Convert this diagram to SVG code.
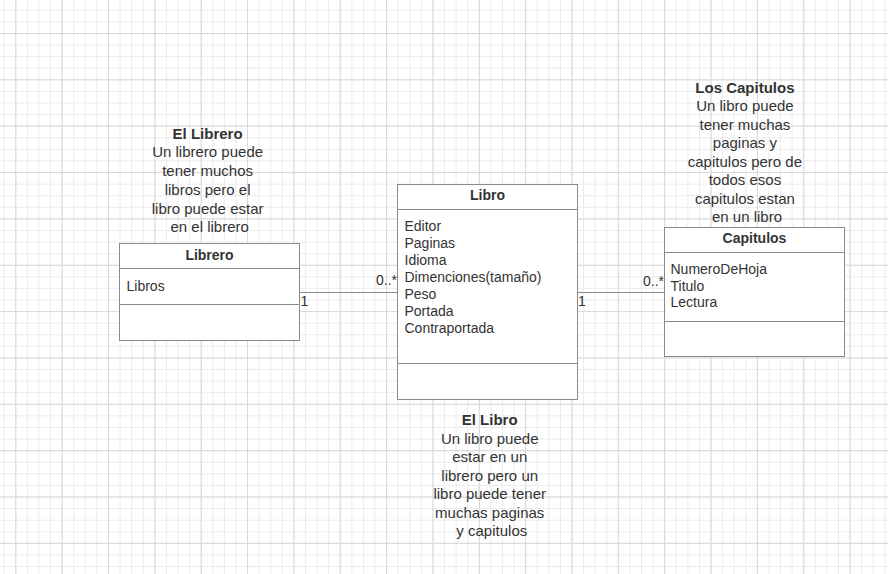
<svg xmlns="http://www.w3.org/2000/svg" width="888" height="574" viewBox="0 0 888 574">
<style>
.box{fill:#ffffff;stroke:#8a8a8a;stroke-width:1}
.div{stroke:#8a8a8a;stroke-width:1}
.t{font-family:"Liberation Sans",Arial,sans-serif;fill:#333333}
.a{font-size:14px}
.h{font-size:14px;font-weight:bold;text-anchor:middle}
.n{font-size:15px;text-anchor:middle}
.nb{font-weight:bold}
.c{stroke:#8a8a8a;stroke-width:1;fill:none}
</style>
<defs>
<pattern id="minor" patternUnits="userSpaceOnUse" x="15.3" y="33" width="11.5875" height="11.5875">
<path d="M0.5 0V11.5875M0 0.5H11.5875" stroke="#ebebeb" stroke-width="1" fill="none"/>
</pattern>
<pattern id="major" patternUnits="userSpaceOnUse" x="15.3" y="33" width="46.35" height="46.35">
<path d="M0.5 0V46.35M0 0.5H46.35" stroke="#d8d8d8" stroke-width="1" fill="none"/>
</pattern>
</defs>
<rect width="888" height="574" fill="#ffffff"/>
<rect width="888" height="574" fill="url(#minor)"/>
<rect width="888" height="574" fill="url(#major)"/>

<g id="connectors">
<path class="c" d="M299.5 292.5H397.5"/>
<path class="c" d="M577.5 292.5H664.5"/>
<text class="t a" x="300.5" y="306">1</text>
<text class="t a" x="397" y="285" text-anchor="end">0..*</text>
<text class="t a" x="578" y="305.5">1</text>
<text class="t a" x="664" y="285.5" text-anchor="end">0..*</text>
</g>

<g id="librero">
<rect class="box" x="119.5" y="243.5" width="180" height="97"/>
<line class="div" x1="119.5" y1="268.5" x2="299.5" y2="268.5"/>
<line class="div" x1="119.5" y1="304.5" x2="299.5" y2="304.5"/>
<text class="t h" x="209.5" y="259.5">Librero</text>
<text class="t a" x="126.5" y="290.5">Libros</text>
</g>

<g id="libro">
<rect class="box" x="397.5" y="184.5" width="180" height="215"/>
<line class="div" x1="397.5" y1="209.5" x2="577.5" y2="209.5"/>
<line class="div" x1="397.5" y1="363.5" x2="577.5" y2="363.5"/>
<text class="t h" x="487.5" y="200">Libro</text>
<text class="t a" x="404.5" y="230.5">Editor</text>
<text class="t a" x="404.5" y="247.5">Paginas</text>
<text class="t a" x="404.5" y="264.5">Idioma</text>
<text class="t a" x="404.5" y="281.5">Dimenciones(tamaño)</text>
<text class="t a" x="404.5" y="298.5">Peso</text>
<text class="t a" x="404.5" y="315.5">Portada</text>
<text class="t a" x="404.5" y="332.5">Contraportada</text>
</g>

<g id="capitulos">
<rect class="box" x="664.5" y="227.5" width="180" height="129"/>
<line class="div" x1="664.5" y1="252.5" x2="844.5" y2="252.5"/>
<line class="div" x1="664.5" y1="321.5" x2="844.5" y2="321.5"/>
<text class="t h" x="754.5" y="242.5">Capitulos</text>
<text class="t a" x="670.5" y="274">NumeroDeHoja</text>
<text class="t a" x="670.5" y="290.7">Titulo</text>
<text class="t a" x="670.5" y="307.4">Lectura</text>
</g>

<g id="nota-librero">
<text class="t n" x="209.7" y="138.7"><tspan class="nb">El Librero</tspan>
<tspan x="209.7" dy="18.7">Un librero puede</tspan>
<tspan x="209.7" dy="18.7">tener muchos</tspan>
<tspan x="209.7" dy="18.7">libros pero el</tspan>
<tspan x="209.7" dy="18.7">libro puede estar</tspan>
<tspan x="209.7" dy="18.7">en el librero</tspan></text>
</g>

<g id="nota-capitulos">
<text class="t n" x="747" y="92.7"><tspan class="nb">Los Capitulos</tspan>
<tspan x="747" dy="18.5">Un libro puede</tspan>
<tspan x="747" dy="18.5">tener muchas</tspan>
<tspan x="747" dy="18.5">paginas y</tspan>
<tspan x="747" dy="18.5">capitulos pero de</tspan>
<tspan x="747" dy="18.5">todos esos</tspan>
<tspan x="747" dy="18.5">capitulos estan</tspan>
<tspan x="747" dy="18.5">en un libro</tspan></text>
</g>

<g id="nota-libro">
<text class="t n" x="491.8" y="425.4"><tspan class="nb">El Libro</tspan>
<tspan x="491.8" dy="18.5">Un libro puede</tspan>
<tspan x="491.8" dy="18.5">estar en un</tspan>
<tspan x="491.8" dy="18.5">librero pero un</tspan>
<tspan x="491.8" dy="18.5">libro puede tener</tspan>
<tspan x="491.8" dy="18.5">muchas paginas</tspan>
<tspan x="491.8" dy="18.5">y capitulos</tspan></text>
</g>
</svg>
